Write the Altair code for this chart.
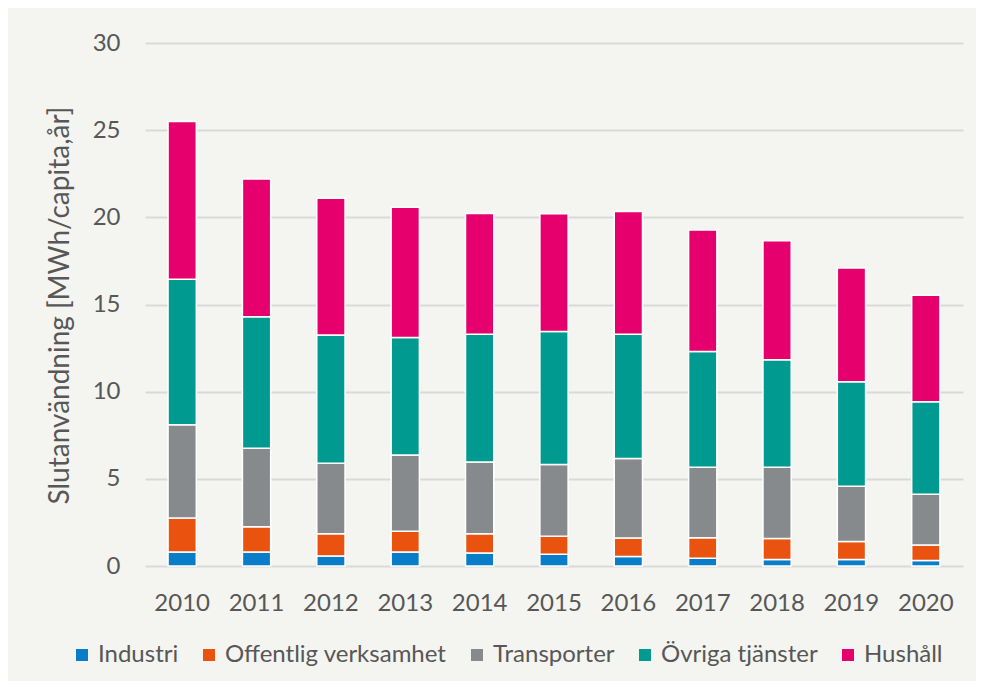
import altair as alt
import pandas as pd

years = [str(y) for y in range(2010, 2021)]
categories = ["Industri", "Offentlig verksamhet", "Transporter", "Övriga tjänster", "Hushåll"]
industri = [0.80, 0.80, 0.58, 0.80, 0.75, 0.68, 0.55, 0.44, 0.38, 0.38, 0.32]
offentlig = [1.95, 1.45, 1.27, 1.20, 1.10, 1.02, 1.05, 1.18, 1.20, 1.02, 0.88]
transporter = [5.35, 4.50, 4.05, 4.37, 4.12, 4.12, 4.57, 4.05, 4.09, 3.17, 2.92]
ovriga = [8.35, 7.55, 7.35, 6.73, 7.33, 7.63, 7.13, 6.63, 6.16, 6.00, 5.30]
hushall = [9.05, 7.90, 7.85, 7.48, 6.92, 6.75, 7.03, 6.98, 6.82, 6.53, 6.11]
series = [industri, offentlig, transporter, ovriga, hushall]
colors = ["#0A7DC9", "#E9530F", "#878A8C", "#009A90", "#E5006E"]
y_ticks = [0, 5, 10, 15, 20, 25, 30]

rows = []
for ci, (cat, vals) in enumerate(zip(categories, series)):
    for yr, v in zip(years, vals):
        rows.append({"År": yr, "Kategori": cat, "Värde": v, "ordning": ci})
df = pd.DataFrame(rows)

text_color = "#575757"
font = "Lato"

chart = alt.Chart(df).mark_bar(stroke="white", strokeWidth=1.5).encode(
    x=alt.X(
        "År:N", sort=years, title=None,
        scale=alt.Scale(paddingInner=0.62, paddingOuter=0.31),
        axis=alt.Axis(labelAngle=0, domain=False, ticks=False, grid=False,
                      labelFontSize=24, labelColor=text_color, labelFont=font,
                      labelPadding=37, labelBaseline="middle"),
    ),
    y=alt.Y(
        "Värde:Q", stack="zero",
        scale=alt.Scale(domain=[0, 30], nice=False),
        axis=alt.Axis(values=y_ticks, grid=True, gridColor="#D9D9D9", gridWidth=2,
                      domain=False, ticks=False, labelFontSize=24, labelColor=text_color,
                      labelFont=font, labelPadding=25,
                      title="Slutanvändning [MWh/capita,år]", titleFontSize=28,
                      titleFont=font, titleColor=text_color, titleFontWeight="normal",
                      titleX=-85, titleY=262, titleAngle=270, titleBaseline="middle",
                      titleAlign="center"),
    ),
    color=alt.Color(
        "Kategori:N",
        scale=alt.Scale(domain=categories, range=colors),
        legend=alt.Legend(title=None, orient="none", direction="horizontal",
                          legendX=-75, legendY=600, symbolType="square",
                          symbolSize=144, symbolStrokeWidth=0, labelFontSize=24,
                          labelFont=font, labelColor=text_color, labelOffset=4,
                          labelLimit=0, columnPadding=18),
    ),
    order=alt.Order("ordning:Q", sort="ascending"),
).properties(
    width=818, height=523, background="#F4F4F0",
    padding={"left": 137, "top": 35, "right": 13, "bottom": 115},
    autosize=alt.AutoSizeParams(type="none"),
).configure_view(stroke=None)

chart.save("out.html", embed_options={"renderer": "svg", "actions": False})
